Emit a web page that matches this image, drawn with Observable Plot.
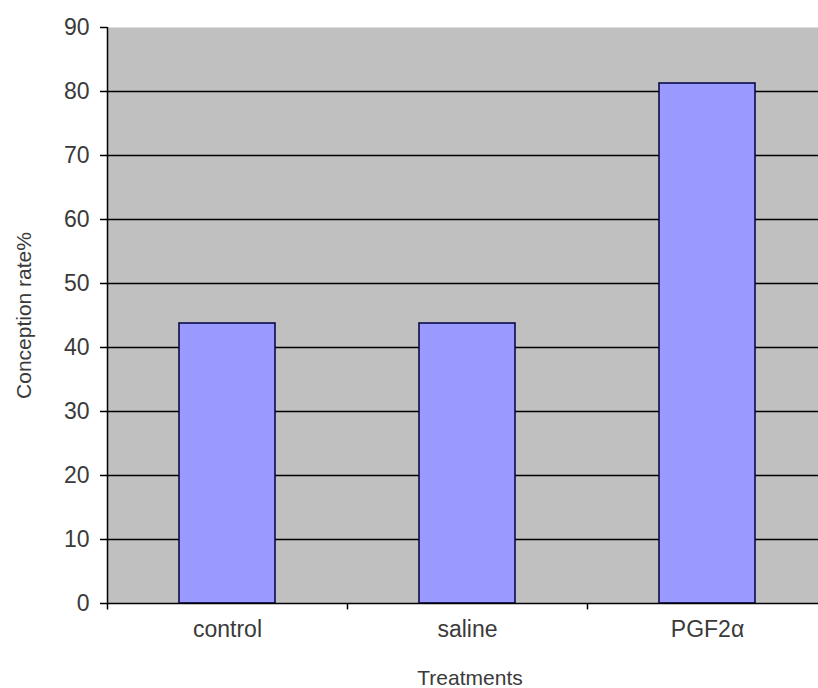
<!DOCTYPE html>
<html>
<head>
<meta charset="utf-8">
<script src="https://cdn.jsdelivr.net/npm/d3@7"></script>
<script src="https://cdn.jsdelivr.net/npm/@observablehq/plot@0.6"></script>
<style>
  body { margin: 0; background: #fff; }
</style>
</head>
<body>
<div id="chart"></div>
<script>
const treatments = ["control", "saline", "PGF2α"];
const conceptionRate = [43.75, 43.75, 81.25];
const yTicks = [0, 10, 20, 30, 40, 50, 60, 70, 80, 90];
const gridValues = [10, 20, 30, 40, 50, 60, 70, 80];

const data = treatments.map((t, i) => ({treatment: t, value: conceptionRate[i]}));

const W = 818, H = 688;
const left = 107, rightExt = 827;
const halfBand = (rightExt - left) / treatments.length / 2;

const plot = Plot.plot({
  width: W,
  height: H,
  marginTop: 27,
  marginBottom: 85,
  marginLeft: left,
  marginRight: 0,
  style: {fontFamily: "Liberation Sans, Arial, sans-serif", background: "transparent"},
  x: {domain: treatments, range: [left, rightExt], paddingInner: 0.6, paddingOuter: 0.3, align: 0.5},
  y: {domain: [0, 90], label: null},
  marks: [
    Plot.frame({fill: "#c0c0c0", stroke: null}),
    Plot.ruleY(gridValues, {stroke: "#000", strokeWidth: 1.5}),
    Plot.barY(data, {x: "treatment", y: "value", fill: "#9999ff", stroke: "#000040", strokeWidth: 1.5}),
    Plot.ruleY([0], {stroke: "#000", strokeWidth: 1.5}),
    Plot.ruleX([treatments[0]], {x: d => d, y1: -1, y2: 90, dx: -halfBand, stroke: "#000", strokeWidth: 1.5}),
    Plot.ruleX(treatments.slice(1), {x: d => d, y1: -1, y2: 0, dx: -halfBand, stroke: "#000", strokeWidth: 1.5}),
    Plot.axisY({ticks: yTicks, tickSize: 7, tickPadding: 11, fontSize: 23, color: "#3a3a3a", stroke: "#000", strokeWidth: 1.5, label: null}),
    Plot.axisX({tickSize: 0, tickPadding: 17, fontSize: 23, color: "#3a3a3a", label: null}),
    Plot.text(["Treatments"], {frameAnchor: "bottom", lineAnchor: "top", dx: 7, dy: 67, fontSize: 21, fill: "#3a3a3a", text: d => d}),
    Plot.text(["Conception rate%"], {frameAnchor: "left", textAnchor: "middle", lineAnchor: "middle", dx: -83, dy: 0, rotate: -90, fontSize: 21, fill: "#3a3a3a", text: d => d})
  ]
});
document.getElementById("chart").appendChild(plot);
</script>
</body>
</html>
